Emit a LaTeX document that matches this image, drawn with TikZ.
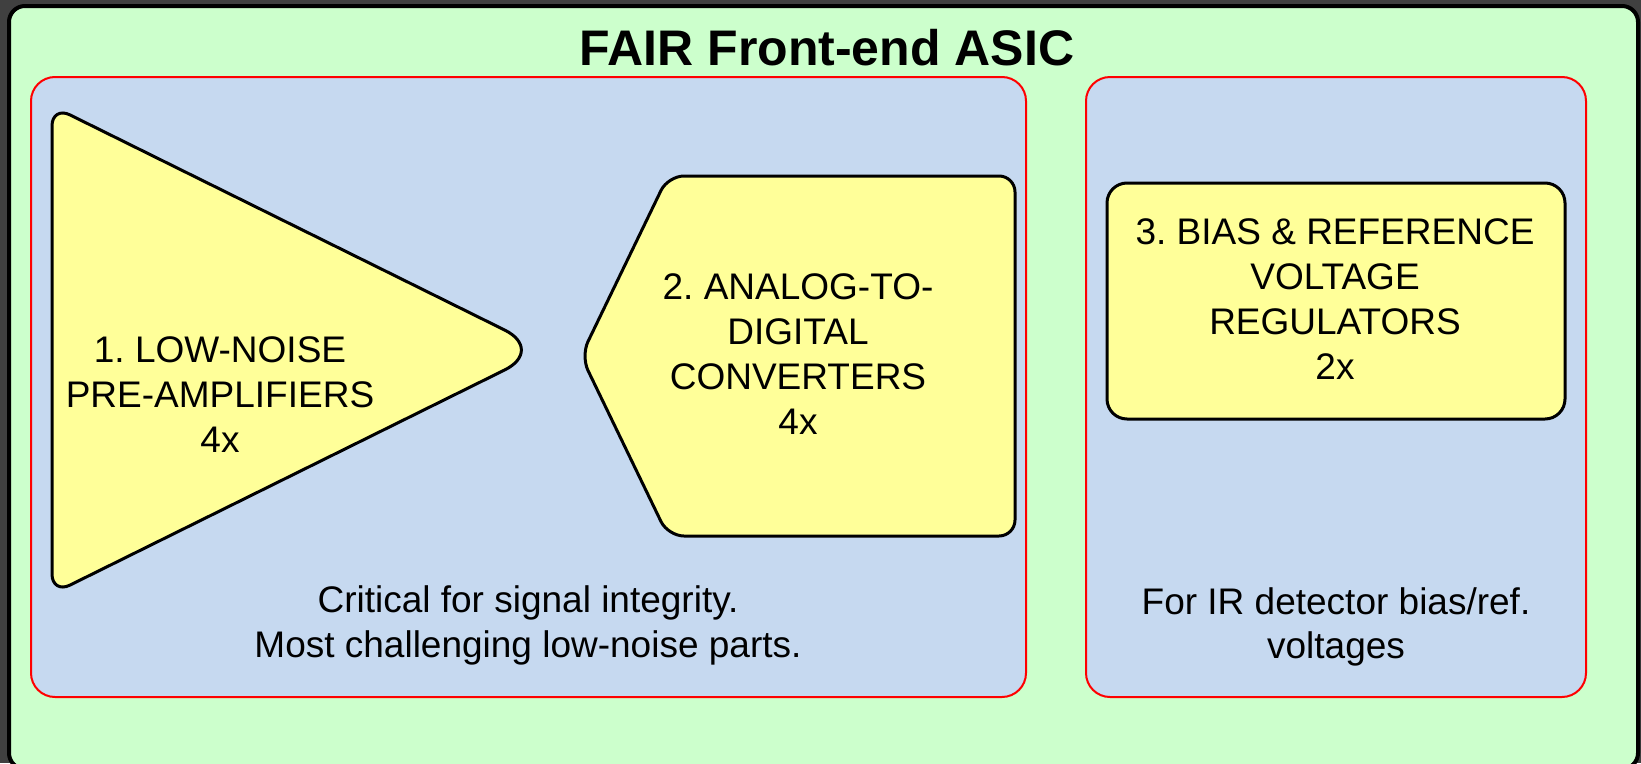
\documentclass[tikz,border=0pt]{standalone}
\usepackage{fontspec}
\setmainfont{Liberation Sans}
\usepackage{tikz}
\definecolor{F1}{HTML}{404040}
\definecolor{F2}{HTML}{CCFFCC}
\definecolor{F3}{HTML}{C6D9F0}
\definecolor{F4}{HTML}{FFFF99}

\begin{document}
\begin{tikzpicture}[
	x=1pt, y=-1pt,
	asicframe/.style = {draw=black, line width=4pt, fill=F2, rounded corners=16pt},
	partgroup/.style = {draw=red, line width=2pt, fill=F3, rounded corners=24pt},
	partshape/.style = {draw=black, line width=3pt, fill=F4, rounded corners=#1},
	blocktext/.style = {align=center, inner sep=0pt, font=\fontsize{37}{45}\selectfont\frenchspacing},
	headline/.style = {anchor=base, inner sep=0pt, font=\fontsize{50}{60}\selectfont\bfseries}
]
  % Frame and groups
  \useasboundingbox (0,0) rectangle (1641,763);
  \clip (0,0) rectangle (1641,763);
  \fill[F1] (0,0) rectangle (1641,763);
  \draw[asicframe] (9,6) rectangle (1638,769);
  \draw[partgroup] (31,77) rectangle (1026,697);
  \draw[partgroup] (1086,77) rectangle (1586,697);

  % Blocks
  \draw[partshape=20pt] (52,106) [rounded corners=45pt] -- (545,350) [rounded corners=20pt] -- (52,594) -- cycle;
  \draw[partshape=16pt] (581,356) -- (668,176) -- (1015,176) -- (1015,536) -- (668,536) -- cycle;
  \draw[partshape=20pt] (1107,183) rectangle (1565,419);

  % Texts
  \node[headline] (title) at (827,65) {FAIR Front-end ASIC};
  \node[blocktext] (lna) at (220,395) {1. LOW-NOISE\\PRE-AMPLIFIERS\\4x};
  \node[blocktext] (adc) at (798,354) {2. ANALOG-TO-\\DIGITAL\\CONVERTERS\\4x};
  \node[blocktext] (bias) at (1335,299) {3. BIAS \& REFERENCE\\VOLTAGE\\REGULATORS\\2x};
  \node[blocktext] (signote) at (528,625) {Critical for signal integrity.\\Most challenging low-noise parts.};
  \node[blocktext, font=\fontsize{37}{44}\selectfont\frenchspacing] (refnote) at (1336,627) {For IR detector bias/ref.\\voltages};
\end{tikzpicture}
\end{document}
